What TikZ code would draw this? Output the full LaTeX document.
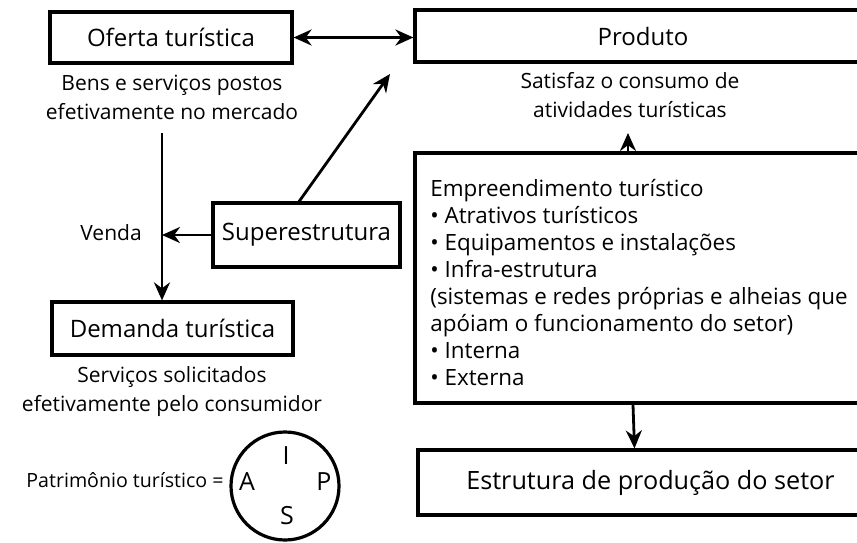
\documentclass[tikz,border=0pt]{standalone}
\usepackage{fontspec}
\setmainfont{Open Sans}
\usetikzlibrary{arrows.meta,calc}
\tikzset{
  box/.style={draw, line width=1.6pt, inner sep=0pt, font=\fontsize{12}{14}\selectfont},
  sub/.style={align=center, font=\fontsize{10.5}{14.5}\selectfont, inner sep=0pt},
  arr/.style={line width=1.4pt, -{Stealth[length=9pt,width=8pt]}},
  dbl/.style={line width=1.4pt, {Stealth[length=9pt,width=8pt]}-{Stealth[length=9pt,width=8pt]}},
  letter/.style={font=\fontsize{12.5}{14}\selectfont, inner sep=0pt},
}
\begin{document}
\begin{tikzpicture}[x=0.5pt,y=-0.5pt]
\clip (0,0) rectangle (857,542);
\useasboundingbox (0,0) rectangle (857,542);
% boxes
\node[box, minimum width=121pt, minimum height=25.5pt] (oferta) at (171,37.5) {Oferta turística};
\node[box, minimum width=228pt, minimum height=26pt] (produto) at (643,36) {Produto};
\node[box, minimum width=93.5pt, minimum height=32pt] (super) at (306.5,235) {Superestrutura};
\node[box, minimum width=120.5pt, minimum height=26.5pt] (demanda) at (172.5,328.5) {Demanda turística};
\node[box, minimum width=228pt, minimum height=125pt] (empre) at (643,278) {};
\node[box, minimum width=226.5pt, minimum height=32.5pt, font=\fontsize{12.6}{14}\selectfont] (estrut) at (644.5,482.5) {\hspace*{6pt}Estrutura de produção do setor};
% sub texts
\node[sub] (t1) at (172,97) {Bens e serviços postos\\efetivamente no mercado};
\node[sub] (t2) at (630,95) {Satisfaz o consumo de\\atividades turísticas};
\node[sub] (t3) at (172,392) {Serviços solicitados\\efetivamente pelo consumidor};
\node[anchor=west, inner sep=0pt, font=\fontsize{10.5}{13}\selectfont] (venda) at (80,233) {Venda};
% list inside empreendimento
\node[anchor=north west, align=left, inner sep=0pt, font=\fontsize{11.2}{13.5}\selectfont] (lista) at (430,179)
 {Empreendimento turístico\\
  • Atrativos turísticos\\
  • Equipamentos e instalações\\
  • Infra-estrutura\\
  (sistemas e redes próprias e alheias que\\
  apóiam o funcionamento do setor)\\
  • Interna\\
  • Externa};
% patrimonio
\node[anchor=east, inner sep=0pt, font=\fontsize{9.8}{13}\selectfont] (patr) at (224,480) {Patrimônio turístico =};
\node[draw, circle, line width=1.6pt, minimum size=54pt, inner sep=0pt] (circ) at (285,486) {};
\node[letter] (lI) at (286,456) {I};
\node[letter] (lA) at (247,482) {A};
\node[letter] (lP) at (324,482) {P};
\node[letter] (lS) at (287,516) {S};
% connectors
\coordinate (vtop) at (162,133);
\coordinate (vmid) at (162,235);
\coordinate (ptip) at (390,74);
\coordinate (stail) at (298,203);
\coordinate (etip) at (628,133);
\draw[dbl] (oferta.east) -- (oferta.east -| produto.west);
\draw[arr] (vtop) -- (vtop |- demanda.north);
\draw[arr] (super.west) -- (vmid);
\draw[arr] (stail) -- (ptip);
\draw[arr] (etip |- empre.north) -- (etip);
\draw[arr] ($(empre.south)+(-10,0)$) -- ($(estrut.north)+(-10,0)$);
\end{tikzpicture}
\end{document}
